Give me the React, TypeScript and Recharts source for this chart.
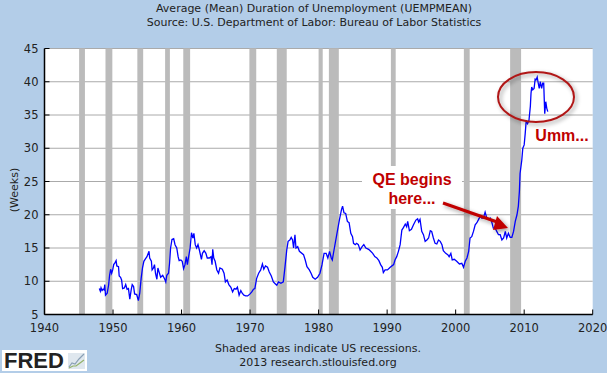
import React from 'react';
import { LineChart, Line, XAxis, YAxis, CartesianGrid, ReferenceArea } from 'recharts';

const years = [
  1948.0, 1948.15, 1948.25, 1948.4, 1948.55, 1948.7, 1948.8, 1948.9, 1949.15, 1949.35, 1949.5, 1949.65, 1949.8, 1949.95,
  1950.1, 1950.3, 1950.45, 1950.55, 1950.8, 1950.9, 1951.1, 1951.25, 1951.4, 1951.65, 1951.85, 1952.05, 1952.25, 1952.45, 1952.65, 1952.8,
  1953.0, 1953.15, 1953.45, 1953.7, 1953.9, 1954.1, 1954.3, 1954.5, 1954.75, 1954.95, 1955.25, 1955.35, 1955.6, 1955.7, 1955.9,
  1956.05, 1956.2, 1956.4, 1956.55, 1956.75, 1956.95, 1957.25, 1957.55, 1957.7, 1957.85, 1958.1, 1958.25, 1958.4, 1958.6, 1958.85,
  1959.05, 1959.3, 1959.5, 1959.65, 1959.9, 1960.1, 1960.3, 1960.5, 1960.7, 1960.85, 1961.05, 1961.25, 1961.45, 1961.65, 1961.8,
  1962.0, 1962.2, 1962.4, 1962.6, 1962.9, 1963.05, 1963.3, 1963.55, 1963.75, 1964.05, 1964.3, 1964.45, 1964.55, 1964.7, 1964.9,
  1965.15, 1965.4, 1965.6, 1965.95, 1966.2, 1966.4, 1966.65, 1966.9, 1967.2, 1967.45, 1967.7, 1967.95, 1968.15, 1968.4, 1968.65, 1968.85,
  1969.1, 1969.35, 1969.65, 1970.0, 1970.25, 1970.5, 1970.7, 1970.95, 1971.25, 1971.55, 1971.8, 1972.0, 1972.25, 1972.55, 1972.8,
  1973.1, 1973.4, 1973.7, 1973.9, 1974.15, 1974.5, 1974.85, 1975.1, 1975.35, 1975.55, 1975.8, 1976.0, 1976.2, 1976.35, 1976.55, 1976.7, 1976.95,
  1977.2, 1977.8, 1978.05, 1978.3, 1978.65, 1978.9, 1979.15, 1979.5, 1979.85, 1980.2, 1980.5, 1980.8, 1981.1, 1981.35, 1981.6, 1981.85,
  1982.0, 1982.25, 1982.65, 1983.05, 1983.35, 1983.5, 1983.7, 1983.95, 1984.2, 1984.45, 1984.7, 1984.95, 1985.1, 1985.35, 1985.55, 1985.8,
  1986.05, 1986.35, 1986.6, 1986.9, 1987.3, 1987.6, 1987.9, 1988.2, 1988.5, 1988.8, 1989.05, 1989.3, 1989.45, 1989.7, 1990.05, 1990.45, 1990.95,
  1991.15, 1991.4, 1991.65, 1991.9, 1992.15, 1992.4, 1992.65, 1992.85, 1993.0, 1993.25, 1993.55, 1993.85, 1994.2, 1994.45, 1994.6, 1994.8,
  1995.05, 1995.3, 1995.55, 1995.8, 1996.05, 1996.3, 1996.5, 1996.75, 1997.0, 1997.25, 1997.5, 1997.75, 1998.0, 1998.2, 1998.55, 1998.85,
  1999.05, 1999.3, 1999.5, 1999.8, 2000.15, 2000.55, 2000.9, 2001.15, 2001.4, 2001.65, 2001.9, 2002.1, 2002.35, 2002.6, 2002.85,
  2003.1, 2003.35, 2003.6, 2003.8, 2004.05, 2004.3, 2004.55, 2004.8, 2005.05, 2005.3, 2005.5, 2005.75, 2006.0, 2006.25, 2006.5, 2006.75,
  2007.0, 2007.25, 2007.45, 2007.7, 2007.95, 2008.2, 2008.45, 2008.7, 2008.95, 2009.15, 2009.3, 2009.4, 2009.65, 2009.8,
  2010.0, 2010.15, 2010.3, 2010.5, 2010.7, 2010.9, 2011.0, 2011.1, 2011.25, 2011.45, 2011.6, 2011.75, 2011.9,
  2012.05, 2012.2, 2012.35, 2012.55, 2012.7, 2012.85, 2013.0, 2013.15, 2013.3, 2013.45,
];

const weeks = [
  8.9, 8.5, 9.0, 8.6, 8.8, 8.7, 9.5, 7.9, 8.2, 9.4, 10.9, 11.8, 11.2, 11.7,
  12.5, 12.8, 13.1, 12.3, 12.2, 10.8, 10.6, 10.2, 8.9, 9.0, 9.5, 8.8, 8.9, 7.3, 8.7, 9.5,
  9.2, 8.1, 8.0, 7.1, 8.2, 10.4, 12.0, 13.0, 13.4, 13.7, 14.5, 13.5, 13.0, 11.7, 12.0,
  12.5, 11.2, 10.3, 12.0, 11.3, 10.6, 10.9, 10.3, 9.9, 10.9, 11.2, 12.7, 15.0, 16.3, 16.4,
  15.5, 15.0, 13.7, 13.1, 13.2, 13.0, 11.9, 12.5, 13.7, 12.5, 13.8, 15.0, 17.3, 16.5, 17.2,
  15.5, 15.0, 15.5, 14.7, 13.3, 14.2, 14.6, 14.2, 13.5, 13.5, 13.7, 12.5, 14.8, 13.5, 13.0,
  11.7, 11.2, 12.0, 11.8, 11.2, 9.9, 10.2, 9.5, 9.1, 8.4, 8.9, 8.8, 9.1, 7.9, 8.6, 8.2,
  7.9, 7.8, 7.8, 8.1, 8.4, 8.8, 8.9, 10.4, 11.2, 11.7, 12.6, 11.8, 12.3, 12.1, 11.4,
  10.8, 9.9, 9.6, 9.4, 9.9, 9.7, 9.9, 12.2, 14.7, 16.0, 16.2, 16.6, 16.2, 15.0, 17.0, 15.0, 15.2,
  14.5, 14.0, 13.2, 12.2, 11.7, 11.2, 10.6, 10.3, 10.6, 11.2, 12.5, 14.2, 14.2, 13.5, 14.5, 13.5,
  13.2, 14.7, 17.0, 19.3, 20.8, 21.3, 20.3, 20.2, 19.0, 18.8, 17.2, 16.7, 15.7, 15.5, 15.7, 15.5,
  14.7, 15.2, 15.5, 15.0, 14.8, 14.5, 14.2, 13.7, 13.5, 13.1, 12.5, 12.1, 11.3, 11.7, 11.7, 12.1, 12.5,
  13.2, 13.7, 14.5, 15.5, 17.7, 18.1, 18.6, 18.2, 19.0, 17.6, 17.8, 18.5, 19.2, 19.4, 18.9, 19.3,
  17.5, 17.0, 16.0, 16.2, 16.5, 17.6, 17.5, 16.5, 15.7, 15.6, 16.2, 16.0, 15.5, 14.6, 14.2, 14.0,
  13.7, 14.2, 13.2, 13.3, 13.0, 12.6, 12.7, 12.1, 13.0, 13.5, 14.5, 16.5, 16.7, 17.5, 18.5,
  18.8, 19.3, 19.8, 19.5, 19.5, 20.4, 19.5, 19.3, 19.5, 18.8, 18.0, 18.0, 17.5, 17.0, 17.0, 16.2,
  16.5, 17.5, 16.5, 17.2, 16.6, 16.6, 17.5, 19.0, 20.0, 21.3, 23.5, 26.2, 28.2, 30.0,
  30.5, 32.2, 34.2, 33.7, 34.2, 36.3, 38.3, 39.2, 38.8, 39.0, 40.4, 40.3, 40.7,
  39.8, 39.0, 40.0, 39.0, 39.8, 39.8, 35.2, 37.0, 36.0, 35.5,
];

const recessionStarts = [1945.05, 1948.9, 1953.55, 1957.6, 1960.25, 1969.9, 1973.9, 1980.0, 1981.5, 1990.55, 2001.2, 2007.95];
const recessionEnds = [1945.9, 1949.9, 1954.4, 1958.3, 1961.25, 1970.9, 1975.35, 1980.6, 1982.95, 1991.25, 2002.05, 2009.55];

const xTicks = [1940, 1950, 1960, 1970, 1980, 1990, 2000, 2010, 2020];
const yTicks = [5, 10, 15, 20, 25, 30, 35, 40, 45];

const data = years.map((year, i) => ({ year, weeks: weeks[i] }));

const BG = '#b3cde8';
const RED = '#c00000';
const FONT = '"DejaVu Sans", sans-serif';
const RED_FONT = '"Liberation Sans", Arial, sans-serif';

const XTick = ({ x, y, payload }: any) => (
  <g>
    <line x1={x} x2={x} y1={y} y2={y - 5} stroke="#000" />
    <text x={x} y={y + 17} textAnchor="middle" fontFamily={FONT} fontSize={11.5} fill="#222">
      {payload.value}
    </text>
  </g>
);

const YTick = ({ x, y, payload }: any) => (
  <g>
    <line x1={x} x2={x + 5} y1={y} y2={y} stroke="#000" />
    <text x={x - 6} y={y + 4} textAnchor="end" fontFamily={FONT} fontSize={11.5} fill="#222">
      {payload.value}
    </text>
  </g>
);

const App: React.FC = () => {
  return (
    <div style={{ position: 'fixed', left: 0, top: 0, width: 607, height: 373, background: BG, overflow: 'hidden' }}>
      <LineChart width={607} height={373} data={data} margin={{ top: 48.5, right: 14.3, bottom: 28.5, left: 0 }}>
        <CartesianGrid vertical={false} stroke="#aaaaaa" fill="#ffffff" horizontalValues={yTicks} />
        <XAxis
          dataKey="year"
          type="number"
          domain={[1940, 2020]}
          ticks={xTicks}
          tick={XTick}
          tickLine={false}
          tickSize={0}
          tickMargin={0}
          axisLine={{ stroke: '#000', strokeWidth: 1.5 }}
          interval={0}
        />
        <YAxis
          type="number"
          domain={[5, 45]}
          ticks={yTicks}
          tick={YTick}
          tickLine={false}
          tickSize={0}
          tickMargin={0}
          width={44.5}
          axisLine={{ stroke: '#000', strokeWidth: 1.5 }}
          interval={0}
        />
        {recessionStarts.map((start, i) => (
          <ReferenceArea key={start} x1={start} x2={recessionEnds[i]} fill="#bbbbbb" fillOpacity={1} stroke="none" />
        ))}
        <Line dataKey="weeks" stroke="#0000ff" strokeWidth={1.3} dot={false} isAnimationActive={false} />
      </LineChart>

      {/* titles, footer and the hand-drawn annotations sit on top of the chart */}
      <svg width={607} height={373} style={{ position: 'absolute', left: 0, top: 0 }}>
        <defs>
          <filter id="soft" x="-20%" y="-20%" width="150%" height="150%">
            <feDropShadow dx="2" dy="2" stdDeviation="2" floodColor="#000" floodOpacity="0.4" />
          </filter>
        </defs>
        <g fontFamily={FONT} fontSize={11} fill="#222" textAnchor="middle">
          <text x={314} y={12}>Average (Mean) Duration of Unemployment (UEMPMEAN)</text>
          <text x={314} y={26}>Source: U.S. Department of Labor: Bureau of Labor Statistics</text>
          <text x={318} y={352}>Shaded areas indicate US recessions.</text>
          <text x={318} y={366}>2013 research.stlouisfed.org</text>
          <text transform="translate(18,190) rotate(-90)">(Weeks)</text>
        </g>

        <rect x={362} y={166} width={100} height={43} fill="#fff" />
        <g fontFamily={RED_FONT} fontWeight="bold" fontSize={16} fill={RED} textAnchor="middle">
          <text x={412} y={185}>QE begins</text>
          <text x={412} y={204}>here...</text>
          <text x={562} y={141}>Umm...</text>
        </g>

        <ellipse cx={536} cy={97} rx={38} ry={25} fill="none" stroke="#b01818" strokeWidth={2} filter="url(#soft)" />
        <g filter="url(#soft)">
          <line x1={443} y1={203} x2={500} y2={223} stroke={RED} strokeWidth={3} />
          <polygon points="508,228 497,216 493,230" fill={RED} />
        </g>

        <rect x={2} y={350} width={85} height={21} fill="#fff" />
        <text x={4} y={368} fontFamily={RED_FONT} fontWeight="bold" fontSize={22} fill="#222">
          FRED
        </text>
        <rect x={68} y={353} width={17} height={16} fill="#dfe7ee" />
        <polyline points="69,367 72,363 75,364 79,359 84,354" fill="none" stroke="#8aa0b5" strokeWidth={1.2} />
        <polyline points="69,368 73,366 76,366 80,363 84,360" fill="none" stroke="#93b26a" strokeWidth={1.2} />
      </svg>
    </div>
  );
};

export default App;
